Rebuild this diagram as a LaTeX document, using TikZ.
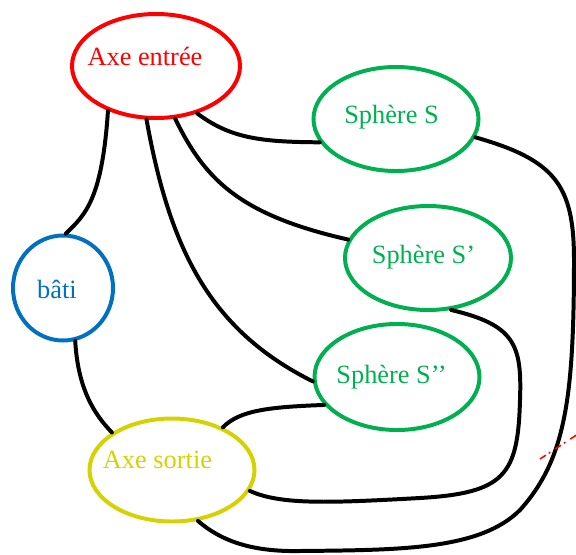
\documentclass[tikz,border=0pt]{standalone}
\usepackage{fontspec}
\setmainfont{Liberation Serif}
\usepackage{xcolor}
\definecolor{ColR}{RGB}{255,0,0}
\definecolor{ColG}{RGB}{0,176,80}
\definecolor{ColB}{RGB}{0,112,192}
\definecolor{ColY}{RGB}{214,210,0}
\usepackage{tikz}
\usetikzlibrary{shapes.geometric}
\tikzstyle{Ell}=[ellipse,line width=3.4pt,inner sep=0pt,
font=\fontsize{22.5}{26}\selectfont]
\tikzstyle{EllR}=[Ell,draw=ColR,text=ColR]
\tikzstyle{EllG}=[Ell,draw=ColG,text=ColG]
\tikzstyle{EllB}=[Ell,draw=ColB,text=ColB]
\tikzstyle{EllY}=[Ell,draw=ColY,text=ColY]
\tikzstyle{Edge}=[draw=black,line width=3.4pt,line cap=round]
\tikzstyle{Cut}=[draw=ColR,line width=1.3pt,dash pattern=on 6pt off 3pt on 1.5pt off 5pt]
% text of a node, moved by #1 (right) and #2 (up) from the centre
\newcommand{\Txt}[3]{\raisebox{#2}[0pt][0pt]{\makebox[0pt]{\hspace*{#1}#3\hspace*{-#1}}}}

\begin{document}
\begin{tikzpicture}[x=0.03cm,y=-0.03cm]
        \useasboundingbox(0,0)rectangle(576,555);
        \node[EllR,minimum width=5.04cm,minimum height=3.12cm](AxeE)at(156,66){\Txt{-0.33cm}{0.03cm}{Axe entrée}};
        \node[EllG,minimum width=4.95cm,minimum height=3.12cm](SphS)at(396,119){\Txt{-0.135cm}{-0.12cm}{Sphère S}};
        \node[EllG,minimum width=4.98cm,minimum height=3.12cm](SphSp)at(428,258){\Txt{-0.135cm}{-0.15cm}{Sphère S’}};
        \node[EllG,minimum width=4.95cm,minimum height=3.18cm](SphSpp)at(397,377){\Txt{-0.165cm}{-0.18cm}{Sphère S’{}’}};
        \node[EllB,minimum width=3.00cm,minimum height=3.15cm](Bati)at(63,288){\Txt{-0.18cm}{-0.30cm}{bâti}};
        \node[EllY,minimum width=4.95cm,minimum height=3.09cm](AxeS)at(172,470){\Txt{-0.435cm}{0.06cm}{Axe sortie}};
        \draw[Edge](AxeE.223)..controls(102,200)and(85,215)..(Bati.87);
        \draw[Edge](AxeE.311)..controls(230,138)and(260,142)..(SphS.197);
        \draw[Edge](AxeE.290)..controls(205,180)and(240,215)..(SphSp.167);
        \draw[Edge](AxeE.260)..controls(170,250)and(210,330)..(SphSpp.183);
        \draw[Edge](Bati.283)..controls(78,390)and(95,415)..(AxeS.148);
        \draw[Edge](AxeS.40)..controls(240,410)and(270,407)..(SphSpp.201);
        \draw[Edge](SphSp.294)..controls(515,325)and(522,345)..(520,400)
            ..controls(518,475)and(505,493)..(420,498)
            ..controls(330,503)and(280,505)..(AxeS.345);
        \draw[Edge](SphS.347)..controls(555,160)and(574,185)..(574,260)
            ..controls(574,400)and(565,460)..(520,510)
            ..controls(480,550)and(400,550)..(300,551)
            ..controls(250,552)and(220,540)..(AxeS.297);
        \coordinate(cutA)at(540,459);
        \coordinate(cutB)at(578,434);
        \draw[Cut](cutA)--(cutB);
    \end{tikzpicture}
\end{document}
